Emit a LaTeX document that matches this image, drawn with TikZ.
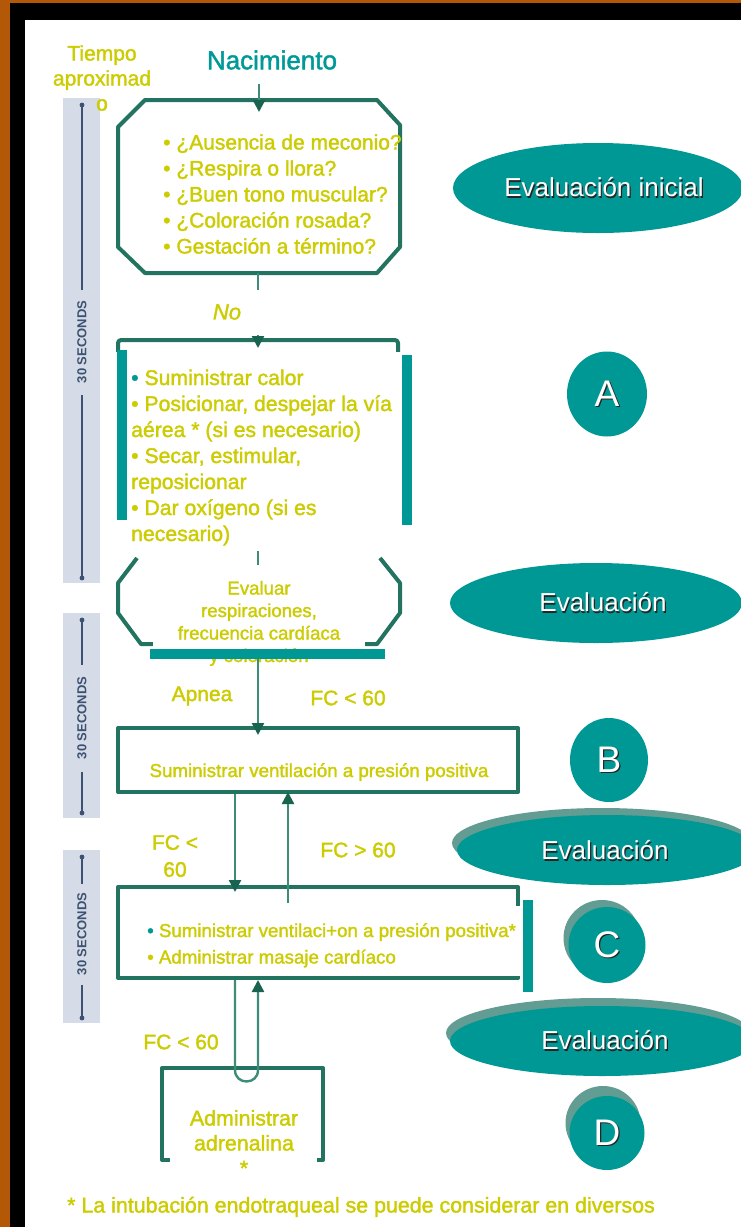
\documentclass[tikz,border=0pt]{standalone}
\usepackage{fontspec}
\setmainfont{Liberation Sans}
\newfontfamily\yfont[FakeBold=1.6]{Liberation Sans}
\usetikzlibrary{arrows.meta,shapes.geometric,calc}

\definecolor{bgorange}{RGB}{178,88,6}
\definecolor{boxgreen}{RGB}{34,116,96}
\definecolor{linkgreen}{RGB}{60,140,120}
\definecolor{headgreen}{RGB}{24,100,80}
\definecolor{tealfill}{RGB}{0,152,148}
\definecolor{tealshadow}{RGB}{98,156,146}
\definecolor{titleteal}{RGB}{0,153,153}
\definecolor{txtyellow}{RGB}{204,204,0}
\definecolor{barfill}{RGB}{214,219,232}
\definecolor{barline}{RGB}{60,82,112}

% font size / leading in points
\newcommand{\fsz}[2]{\fontsize{#1pt}{#2pt}\selectfont}
% white lettering with a dark drop shadow
\newcommand{\shtxt}[1]{\rlap{\kern1.2pt\raisebox{-1.2pt}{\color{black!85}#1}}#1}

\tikzset{
  boxframe/.style={draw=boxgreen, line width=4pt, line join=round},
  link/.style={draw=linkgreen, line width=2.4pt},
  linkarrow/.style={link, -{Triangle[length=12pt,width=12pt,color=headgreen]}},
  ylab/.style={text=txtyellow, inner sep=0pt, font=\fsz{21}{25}, execute at begin node=\yfont},
  listline/.style={text=txtyellow, inner sep=0pt, anchor=base west, execute at begin node=\yfont},
  centerline/.style={text=txtyellow, inner sep=0pt, anchor=base, execute at begin node=\yfont},
  oval/.style={ellipse, fill=tealfill, inner sep=0pt},
  ovalshadow/.style={ellipse, fill=tealshadow, inner sep=0pt},
  ovaltext/.style={text=white, inner sep=0pt, font=\fsz{26}{30}},
  lettertext/.style={text=white, font=\fsz{37}{40}},
  tealbar/.style={fill=tealfill},
  whitecover/.style={fill=white},
  timebar/.style={fill=barfill},
  timeline/.style={draw=barline, line width=1.6pt},
  timelabel/.style={rotate=90, text=barline, inner sep=0pt, font=\bfseries\fsz{13}{13}},
}

\begin{document}
\begin{tikzpicture}[x=1pt,y=-1pt]
\useasboundingbox (0,0) rectangle (741,1227);

% slide frame
\fill[bgorange] (0,0) rectangle (741,1227);
\fill[black] (10,3) rectangle (741,1227);
\fill[white] (25,20) rectangle (741,1227);

% time scale on the left
\foreach \ya/\yb/\ym/\ga/\gb [count=\k] in {98/583/342/290/395, 613/818/718/665/772, 850/1023/934/884/985}{
  \fill[timebar] (63,\ya) rectangle (100,\yb);
  \draw[timeline] (82,\ya+7) -- (82,\ga) (82,\gb) -- (82,\yb-5);
  \fill[barline] (82,\ya+7) circle[radius=2.4pt] (82,\yb-5) circle[radius=2.4pt];
  \node[timelabel] (secs\k) at (82,\ym) {30 SECONDS};
}

% headings
\node[ylab, align=center] (tiempo) at (102,78) {Tiempo\\aproximad\\o};
\node[text=titleteal, font=\fsz{26}{30}, inner sep=0pt, execute at begin node=\yfont] (birth) at (272,60) {Nacimiento};

% column positions for the connectors
\coordinate (colL) at (235,0);
\coordinate (colM) at (258,0);
\coordinate (colR) at (288,0);

% initial check (octagon)
\draw[boxframe] (145,100) -- (377,100) -- (400,125) -- (400,247) -- (377,273)
  -- (145,273) -- (118,247) -- (118,127) -- cycle;
\coordinate (q1top) at (259,100);
\coordinate (q1bot) at (258,273);
\draw[linkarrow] ($(birth.south -| q1top)+(0,14)$) -- ($(q1top)+(0,12)$);
\foreach \t [count=\i] in {{¿Ausencia de meconio?},{¿Respira o llora?},{¿Buen tono muscular?},{¿Coloración rosada?},{Gestación a término?}}{
  \node[listline, font=\fsz{21}{26}] (q1line\i) at (163,{149.5+26*(\i-1)}) {•\ \t};
}

% step A
\draw[boxframe, rounded corners=3pt] (118,356) -- (118,340) -- (398,340) -- (398,356);
\coordinate (aTop) at (258,340);
\coordinate (aBot) at (258,551);
\draw[linkarrow] (q1bot) -- ($(aTop)+(0,8)$);
\node[text=txtyellow, font=\itshape\fsz{22}{26}, fill=white, minimum width=68pt,
      minimum height=45pt, inner sep=0pt, execute at begin node=\yfont\itshape] (nolab) at (227,312) {No};
\fill[whitecover] (112,352) rectangle (404,551);
\fill[tealbar] (117,350) rectangle (127,520);
\fill[tealbar] (402,355) rectangle (412,525);
\foreach \t [count=\i] in {{\textcolor{tealfill}{•} Suministrar calor},{• Posicionar, despejar la vía},{aérea * (si es necesario)},{• Secar, estimular,},{reposicionar},{• Dar oxígeno (si es},{necesario)}}{
  \node[listline, font=\fsz{21.2}{26}] (aline\i) at (131,{385+26*(\i-1)}) {\t};
}

% evaluation (octagon)
\draw[boxframe] (137,558) -- (118,583) -- (118,613) -- (141,644) -- (377,644)
  -- (400,613) -- (400,583) -- (380,558);
\coordinate (evTop) at (258,565);
\coordinate (evBot) at (258,659);
\draw[link] (aBot) -- (evTop);
\fill[whitecover] (153,565) rectangle (365,648);
\foreach \t [count=\i] in {{Evaluar},{respiraciones,},{frecuencia cardíaca},{y coloración}}{
  \node[centerline, font=\fsz{18.6}{22}] (evline\i) at (259,{594.5+22.5*(\i-1)}) {\t};
}
\fill[tealbar] (150,649) rectangle (385,659);

% step B
\node[boxframe, minimum width=400pt, minimum height=64pt, inner sep=0pt] (boxB) at (318,760) {};
\draw[linkarrow] (evBot) -- ($(boxB.north -| evBot)+(0,9)$);
\node[ylab] (apnea) at (202,696) {Apnea};
\node[ylab] (fclowA) at (348,698) {FC < 60};
\node[centerline, font=\fsz{18.7}{22}] (bText) at (319,777) {Suministrar ventilación a presión positiva};

% step C
\node[boxframe, minimum width=400pt, minimum height=91pt, inner sep=0pt] (boxC) at (318,932.5) {};
\draw[linkarrow] (boxB.south -| colL) -- ($(boxC.north -| colL)+(0,7)$);
\draw[linkarrow] ($(boxC.north -| colR)+(0,18)$) -- ($(boxB.south -| colR)+(0,-2)$);
\node[ylab, align=center, font=\fsz{21}{27}] (fclowB) at (175,856) {FC <\\60};
\node[ylab] (fchigh) at (358,850) {FC > 60};
\fill[whitecover] (131,906) rectangle (520,976);
\fill[tealbar] (523,900) rectangle (533,992);
\node[listline, font=\fsz{18.7}{22}] (cline1) at (147,937) {\textcolor{tealfill}{•} Suministrar ventilaci+on a presión positiva*};
\node[listline, font=\fsz{18.7}{22}] (cline2) at (147,963.5) {• Administrar masaje cardíaco};

% step D
\node[boxframe, minimum width=161pt, minimum height=92pt, inner sep=0pt] (boxD) at (242.5,1114) {};
\coordinate (uTurnL) at (235,1070);
\coordinate (uTurnR) at (258,1070);
\draw[linkarrow] (boxC.south -| colL) -- (uTurnL)
  .. controls (235,1085.3) and (258,1085.3) .. (uTurnR) -- (boxC.south -| colM);
\node[ylab] (fclowC) at (181,1042) {FC < 60};
\fill[whitecover] (170,1093) rectangle (317,1172);
\foreach \t [count=\i] in {{Administrar},{adrenalina},{*}}{
  \node[centerline, font=\fsz{21.4}{25}] (dline\i) at (244,{1125.5+25*(\i-1)}) {\t};
}

% stage markers on the right
\node[oval, minimum width=290pt, minimum height=90pt] (ev1) at (598,188) {};
\node[ovaltext] (ev1t) at (604,188) {\shtxt{Evaluación inicial}};
\node[oval, lettertext, minimum width=80pt, minimum height=85pt, inner sep=0pt] (markA) at (607,394) {\shtxt{A}};

\node[oval, minimum width=292pt, minimum height=80pt] (ev2) at (596,603) {};
\node[ovaltext] (ev2t) at (603,603) {\shtxt{Evaluación}};
\node[oval, lettertext, minimum width=78pt, minimum height=84pt, inner sep=0pt] (markB) at (609,760) {\shtxt{B}};

\node[ovalshadow, minimum width=300pt, minimum height=70pt] (ev3s) at (602,843) {};
\node[oval, minimum width=300pt, minimum height=70pt] (ev3) at (607,850) {};
\node[ovaltext] (ev3t) at (605,851) {\shtxt{Evaluación}};
\node[ovalshadow, minimum width=77pt, minimum height=76pt] (markCs) at (602,938) {};
\node[oval, lettertext, minimum width=77pt, minimum height=76pt, inner sep=0pt] (markC) at (607,945) {\shtxt{C}};

\node[ovalshadow, minimum width=304pt, minimum height=70pt] (ev4s) at (598,1033) {};
\node[oval, minimum width=304pt, minimum height=70pt] (ev4) at (602,1041) {};
\node[ovaltext] (ev4t) at (605,1041) {\shtxt{Evaluación}};
\node[ovalshadow, minimum width=75pt, minimum height=74pt] (markDs) at (603,1123) {};
\node[oval, lettertext, minimum width=75pt, minimum height=74pt, inner sep=0pt] (markD) at (607,1133) {\shtxt{D}};

% footnote
\node[listline, font=\fsz{21.4}{25}] (footnote) at (67,1212.5) {* La intubación endotraqueal se puede considerar en diversos};
\end{tikzpicture}
\end{document}
